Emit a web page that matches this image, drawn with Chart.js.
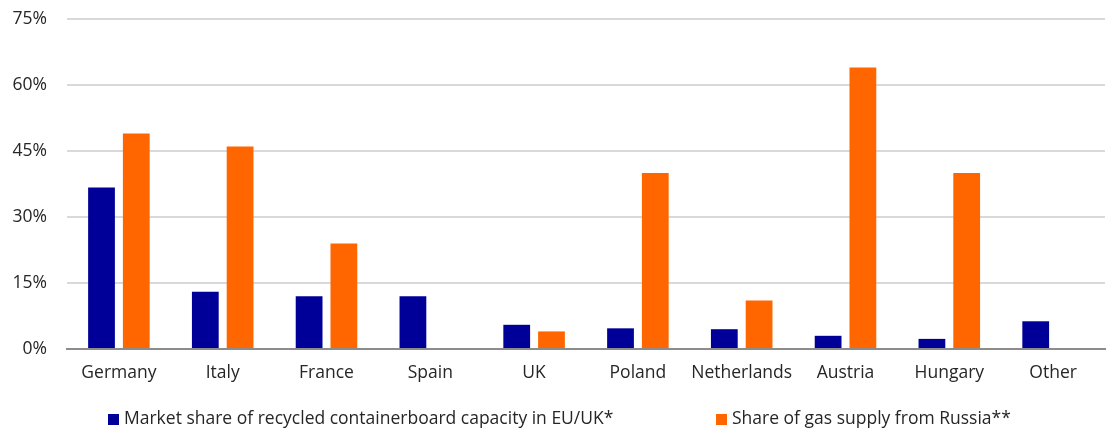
<!DOCTYPE html>
<html>
<head>
<meta charset="utf-8">
<script src="https://cdn.jsdelivr.net/npm/chart.js@4"></script>
<style>
html,body{margin:0;padding:0;background:#fff;}
#wrap{width:1107px;height:430px;position:relative;}
</style>
</head>
<body>
<div id="wrap"><canvas id="c" width="1107" height="430"></canvas></div>
<script>
const categories = ["Germany","Italy","France","Spain","UK","Poland","Netherlands","Austria","Hungary","Other"];
const marketShare = [36.7, 13, 12, 12, 5.5, 4.7, 4.5, 3, 2.3, 6.3];
const gasShare = [49, 46, 24, null, 4, 40, 11, 64, 40, null];
const seriesLabels = ["Market share of recycled containerboard capacity in EU/UK*", "Share of gas supply from Russia**"];
const yTicks = [0, 15, 30, 45, 60, 75];

const FONT = "'Open Sans', 'Noto Sans', sans-serif";
const FSIZE = 17.5;
const TEXT = "#262626";

const legendPlugin = {
  id: 'customLegend',
  afterDraw(chart) {
    const ctx = chart.ctx;
    const ds = chart.data.datasets;
    const positions = [108, 716];
    ctx.save();
    ctx.font = FSIZE + "px " + FONT;
    ctx.textBaseline = 'middle';
    ds.forEach((d, i) => {
      const x = positions[i];
      const y = 419;
      ctx.fillStyle = d.backgroundColor;
      ctx.fillRect(x, y - 5, 11, 11);
      ctx.fillStyle = TEXT;
      ctx.fillText(d.label, x + 16, y);
    });
    ctx.restore();
  }
};

new Chart(document.getElementById('c'), {
  type: 'bar',
  data: {
    labels: categories,
    datasets: [
      { label: seriesLabels[0], data: marketShare, backgroundColor: '#000099' },
      { label: seriesLabels[1], data: gasShare, backgroundColor: '#FF6600' }
    ]
  },
  options: {
    responsive: false,
    animation: false,
    datasets: { bar: { categoryPercentage: 0.67, barPercentage: 0.77 } },
    layout: { padding: { left: 0, right: 2, top: 19, bottom: 40 } },
    plugins: { legend: { display: false }, tooltip: { enabled: false } },
    scales: {
      x: {
        afterFit(axis) { axis.paddingLeft = 0; axis.paddingRight = 0; },
        grid: { display: false },
        border: { display: true, color: '#8c8c8c', width: 2 },
        ticks: { color: TEXT, font: { family: FONT, size: FSIZE }, padding: 6, maxRotation: 0, minRotation: 0, autoSkip: false }
      },
      y: {
        min: 0, max: 75,
        afterBuildTicks(axis) { axis.ticks = yTicks.map(v => ({ value: v })); },
        afterFit(axis) { axis.width = 67; axis.paddingTop = 0; axis.paddingBottom = 0; },
        grid: { color: '#d9d9d9', lineWidth: 2, drawTicks: false },
        border: { display: false },
        ticks: { color: TEXT, font: { family: FONT, size: FSIZE }, padding: 20, callback: v => v + '%' }
      }
    }
  },
  plugins: [legendPlugin]
});
</script>
</body>
</html>
